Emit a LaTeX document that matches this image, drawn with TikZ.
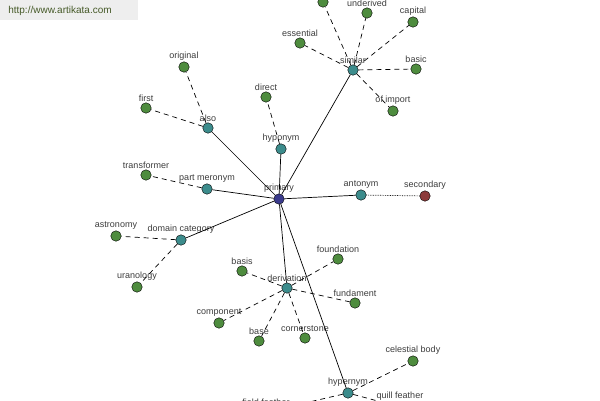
\documentclass[tikz,border=0pt]{standalone}
\usepackage{fontspec}
\setmainfont{Liberation Sans}
\usetikzlibrary{positioning}
\definecolor{leafgreen}{RGB}{78,140,62}
\definecolor{hubteal}{RGB}{60,140,140}
\definecolor{rootblue}{RGB}{58,58,140}
\definecolor{oppred}{RGB}{140,58,58}
\definecolor{wordgray}{RGB}{60,60,60}
\definecolor{sitegreen}{RGB}{70,90,40}

\begin{document}
\begin{tikzpicture}[x=1pt, y=-1pt,
    every label/.style={font=\fontsize{9}{10}\selectfont, text=wordgray, inner sep=0.5pt},
    leaf/.style={circle, draw=black, fill=leafgreen, minimum size=10.5pt, inner sep=0pt},
    hub/.style={circle, draw=black, fill=hubteal, minimum size=10.5pt, inner sep=0pt},
    root/.style={circle, draw=black, fill=rootblue, minimum size=10.5pt, inner sep=0pt},
    opp/.style={circle, draw=black, fill=oppred, minimum size=10.5pt, inner sep=0pt},
    rel/.style={line width=0.7pt, black},
    syn/.style={line width=0.7pt, black, dash pattern=on 5pt off 4pt}]
    \useasboundingbox (0,0) rectangle (600,400);
    \clip (0,0) rectangle (600,400);
    \fill[gray!13] (0,0) rectangle (138,20);
    \node[text=sitegreen, font=\fontsize{10}{11}\selectfont] (site) at (60,11) {http://www.artikata.com};

    % hubs
    \node[root, label=above:primary] (primary) at (279,199) {};
    \node[hub, label=above:similar] (similar) at (353,70) {};
    \node[hub, label=above:also] (also) at (208,128) {};
    \node[hub, label=above:hyponym] (hyponym) at (281,149) {};
    \node[hub, label=above:part meronym] (meronym) at (207,189) {};
    \node[hub, label=above:domain category] (domain) at (181,240) {};
    \node[hub, label=above:antonym] (antonym) at (361,195) {};
    \node[hub, label=above:derivation] (derivation) at (287,288) {};
    \node[hub, label=above:hypernym] (hypernym) at (348,393) {};

    % leaves
    \node[leaf] (topleaf) at (323,2) {};
    \node[leaf, label=above:underived] (underived) at (367,13) {};
    \node[leaf, label=above:capital] (capital) at (413,22) {};
    \node[leaf, label=above:essential] (essential) at (300,43) {};
    \node[leaf, label=above:basic] (basic) at (416,69) {};
    \node[leaf, label=above:of import] (ofimport) at (393,111) {};
    \node[leaf, label=above:original] (original) at (184,67) {};
    \node[leaf, label=above:first] (first) at (146,108) {};
    \node[leaf, label=above:direct] (direct) at (266,97) {};
    \node[leaf, label=above:transformer] (transformer) at (146,175) {};
    \node[leaf, label=above:astronomy] (astronomy) at (116,236) {};
    \node[leaf, label=above:uranology] (uranology) at (137,287) {};
    \node[opp, label=above:secondary] (secondary) at (425,196) {};
    \node[leaf, label=above:basis] (basis) at (242,271) {};
    \node[leaf, label=above:foundation] (foundation) at (338,259) {};
    \node[leaf, label=above:fundament] (fundament) at (355,303) {};
    \node[leaf, label=above:component] (component) at (219,323) {};
    \node[leaf, label=above:base] (base) at (259,341) {};
    \node[leaf, label=above:cornerstone] (cornerstone) at (305,338) {};
    \node[leaf, label=above:celestial body] (celestial) at (413,361) {};
    \node[leaf, label=above:quill feather] (quill) at (400,407) {};
    \node[leaf, label=above:field feather] (field) at (266,412) {};

    % relations from primary
    \foreach \h in {similar,also,hyponym,meronym,domain,antonym,derivation,hypernym}
        \draw[rel] (primary) -- (\h);

    % synonyms of each sense
    \foreach \w in {topleaf,underived,capital,essential,basic,ofimport}
        \draw[syn] (similar) -- (\w);
    \foreach \w in {original,first}
        \draw[syn] (also) -- (\w);
    \draw[syn] (hyponym) -- (direct);
    \draw[syn] (meronym) -- (transformer);
    \foreach \w in {astronomy,uranology}
        \draw[syn] (domain) -- (\w);
    \foreach \w in {basis,foundation,fundament,component,base,cornerstone}
        \draw[syn] (derivation) -- (\w);
    \foreach \w in {celestial,quill,field}
        \draw[syn] (hypernym) -- (\w);
    \draw[line width=0.7pt, densely dotted] (antonym) -- (secondary);
\end{tikzpicture}
\end{document}
